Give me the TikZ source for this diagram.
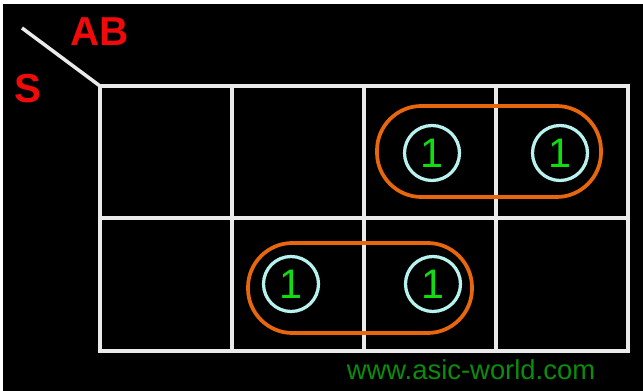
\documentclass[tikz,border=0pt]{standalone}
\usepackage{fontspec}
\setmainfont{Liberation Sans}
\usepackage{tikz}
\usetikzlibrary{positioning, calc}
\definecolor{KmapBlack}{HTML}{000000}
\definecolor{KmapWhite}{HTML}{FFFFFF}
\definecolor{KmapGrid}{HTML}{EAEAEA}
\definecolor{KmapRed}{HTML}{F00A0A}
\definecolor{KmapOrange}{HTML}{E8660C}
\definecolor{KmapCyan}{HTML}{B8F2EE}
\definecolor{KmapGreen}{HTML}{10DC10}
\definecolor{KmapDarkGreen}{HTML}{0C8C0C}
\tikzset{
    gridline/.style={
        draw=KmapGrid,
        line width=0.07cm
    },
    varlabel/.style={
        text=KmapRed,
        font=\fontsize{23}{25}\selectfont\bfseries,
        inner sep=0pt
    },
    onecell/.style={
        draw=KmapCyan,
        line width=0.065cm,
        circle,
        minimum size=1.1cm,
        inner sep=0pt,
        text=KmapGreen,
        font=\fontsize{23.5}{26}\selectfont
    },
    grouploop/.style={
        draw=KmapOrange,
        line width=0.075cm,
        rounded corners=0.89cm
    },
    credit/.style={
        text=KmapDarkGreen,
        font=\fontsize{15.6}{18}\selectfont,
        inner sep=0pt
    }
}

\begin{document}
\begin{tikzpicture}[x=0.02cm, y=-0.02cm]
        % Background
        \fill[KmapWhite] (0,0) rectangle (643,391);
        \fill[KmapBlack] (3,4) rectangle (643,391);
        \useasboundingbox (0,0) rectangle (643,391);

        % Map grid
        \coordinate (corner) at (100,86);
        \foreach \x in {100,232,364,496,628} {
            \draw[gridline] (\x,86) -- (\x,351);
        }
        \foreach \y in {86,218,351} {
            \draw[gridline] (98.3,\y) -- (629.7,\y);
        }

        % Variable labels
        \coordinate (slash) at (22,28);
        \draw[gridline] (slash) -- (corner);
        \node[varlabel] (ab) at (100,32) {AB};
        \node[varlabel] (s) at (28,89) {S};

        % Groups
        \draw[grouploop] (377,106) rectangle (601,197);
        \draw[grouploop] (248,243) rectangle (472,333);

        % Ones
        \node[onecell] (s0ab11) at (432,153) {1};
        \node[onecell] (s0ab10) at (560,153) {1};
        \node[onecell] (s1ab01) at (291,284) {1};
        \node[onecell] (s1ab11) at (433,284) {1};

        % Credit
        \node[credit] (site) at (471,370) {www.asic-world.com};
    \end{tikzpicture}
\end{document}
